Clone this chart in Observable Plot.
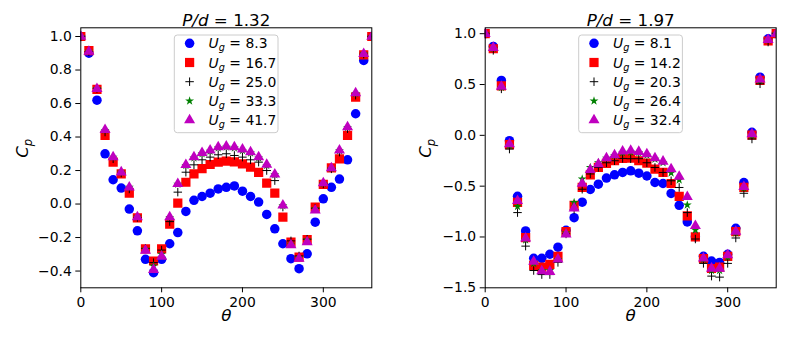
<!DOCTYPE html>
<html>
<head>
<meta charset="utf-8">
<script src="https://cdn.jsdelivr.net/npm/d3@7"></script>
<script src="https://cdn.jsdelivr.net/npm/@observablehq/plot@0.6"></script>
<style>
  html, body { margin: 0; padding: 0; background: white; }
  #wrap { display: flex; width: 800px; height: 339px; }
  #wrap svg { display: block; }
</style>
</head>
<body>
<div id="wrap"></div>
<script>
// ---- data ----
const theta = [0, 10, 20, 30, 40, 50, 60, 70, 80, 90, 100, 110, 120, 130, 140, 150, 160, 170, 180,
               190, 200, 210, 220, 230, 240, 250, 260, 270, 280, 290, 300, 310, 320, 330, 340, 350, 360];

// P/d = 1.32
const leftLabels = ["8.3", "16.7", "25.0", "33.3", "41.7"];
const left_u83  = [1.00, 0.90, 0.62, 0.30, 0.145, 0.095, -0.03, -0.16, -0.33, -0.41, -0.33, -0.237, -0.17, -0.044, 0.022, 0.045, 0.065, 0.09, 0.10, 0.108, 0.077, 0.045, 0.012, -0.062, -0.148, -0.237, -0.326, -0.386, -0.297, -0.108, 0.031, 0.10, 0.149, 0.264, 0.539, 0.857, 1.00];
const left_u167 = [1.00, 0.916, 0.684, 0.41, 0.25, 0.18, 0.065, -0.082, -0.267, -0.34, -0.267, -0.12, 0.005, 0.13, 0.18, 0.212, 0.236, 0.25, 0.256, 0.252, 0.24, 0.22, 0.189, 0.125, 0.065, -0.078, -0.227, -0.317, -0.213, -0.018, 0.117, 0.216, 0.27, 0.41, 0.638, 0.89, 1.00];
const left_u250 = [1.00, 0.91, 0.69, 0.43, 0.27, 0.185, 0.09, -0.08, -0.265, -0.35, -0.275, -0.105, 0.071, 0.19, 0.234, 0.264, 0.28, 0.294, 0.30, 0.29, 0.28, 0.264, 0.25, 0.20, 0.14, -0.018, -0.22, -0.31, -0.21, -0.025, 0.12, 0.21, 0.31, 0.45, 0.65, 0.895, 1.00];
const left_u333 = [1.00, 0.912, 0.69, 0.44, 0.28, 0.19, 0.10, -0.077, -0.27, -0.37, -0.30, -0.08, 0.118, 0.23, 0.275, 0.30, 0.315, 0.335, 0.34, 0.335, 0.32, 0.305, 0.275, 0.23, 0.175, -0.01, -0.24, -0.32, -0.215, -0.03, 0.123, 0.213, 0.318, 0.457, 0.66, 0.897, 1.00];
const left_u417 = [1.00, 0.91, 0.688, 0.443, 0.28, 0.19, 0.10, -0.078, -0.277, -0.392, -0.313, -0.078, 0.121, 0.234, 0.28, 0.306, 0.32, 0.34, 0.344, 0.34, 0.326, 0.31, 0.28, 0.236, 0.177, -0.008, -0.245, -0.326, -0.227, -0.038, 0.125, 0.214, 0.32, 0.459, 0.662, 0.897, 1.00];

// P/d = 1.97
const rightLabels = ["8.1", "14.2", "20.3", "26.4", "32.4"];
const right_u81  = [1.00, 0.875, 0.54, -0.053, -0.60, -0.94, -1.21, -1.21, -1.17, -1.10, -0.934, -0.81, -0.658, -0.533, -0.48, -0.42, -0.388, -0.365, -0.349, -0.372, -0.40, -0.464, -0.474, -0.572, -0.688, -0.852, -0.997, -1.19, -1.237, -1.25, -1.17, -0.914, -0.464, 0.03, 0.572, 0.95, 1.00];
const right_u142 = [1.00, 0.852, 0.487, -0.092, -0.66, -1.007, -1.28, -1.296, -1.27, -1.19, -0.947, -0.688, -0.513, -0.388, -0.316, -0.276, -0.25, -0.227, -0.224, -0.25, -0.273, -0.332, -0.365, -0.474, -0.60, -0.793, -1.0, -1.214, -1.31, -1.296, -1.19, -0.947, -0.513, 0.003, 0.54, 0.928, 1.00];
const right_u203 = [1.00, 0.836, 0.457, -0.135, -0.76, -1.09, -1.33, -1.37, -1.37, -1.25, -0.97, -0.73, -0.53, -0.38, -0.316, -0.27, -0.25, -0.227, -0.23, -0.23, -0.27, -0.316, -0.365, -0.447, -0.513, -0.76, -1.02, -1.26, -1.385, -1.395, -1.26, -1.01, -0.57, -0.036, 0.507, 0.918, 1.00];
const right_u264 = [1.00, 0.855, 0.47, -0.10, -0.70, -1.03, -1.26, -1.33, -1.33, -1.22, -0.96, -0.66, -0.43, -0.316, -0.27, -0.225, -0.20, -0.17, -0.165, -0.17, -0.195, -0.235, -0.27, -0.37, -0.44, -0.685, -0.93, -1.22, -1.33, -1.33, -1.20, -0.96, -0.52, 0.0, 0.54, 0.935, 1.00];
const right_u324 = [1.00, 0.862, 0.48, -0.086, -0.645, -1.013, -1.243, -1.336, -1.342, -1.22, -0.974, -0.717, -0.474, -0.339, -0.283, -0.224, -0.194, -0.158, -0.151, -0.161, -0.184, -0.224, -0.257, -0.332, -0.405, -0.605, -0.89, -1.21, -1.31, -1.31, -1.178, -0.947, -0.507, 0.013, 0.55, 0.94, 1.00];

const xTicks = [0, 100, 200, 300];
const leftYTicks = [-0.4, -0.2, 0.0, 0.2, 0.4, 0.6, 0.8, 1.0];
const rightYTicks = [-1.5, -1.0, -0.5, 0.0, 0.5, 1.0];

// ---- styles (matplotlib bo, rs, k+, g*, m^) ----
const styles = [
  {symbol: "circle",   r: 4.75, fill: "#0000ff", stroke: "none"},
  {symbol: "square",   r: 5.2,  fill: "#ff0000", stroke: "none"},
  {symbol: "plus",     r: 2.85, fill: "none",    stroke: "#000000", strokeWidth: 1},
  {symbol: "star",     r: 2.8,  fill: "#008000", stroke: "none"},
  {symbol: "triangle", r: 4.1,  fill: "#bf00bf", stroke: "none"}
];
const d3Symbols = {circle: d3.symbolCircle, square: d3.symbolSquare, plus: d3.symbolPlus, star: d3.symbolStar, triangle: d3.symbolTriangle};

const W = 400, H = 339, MT = 27.3, MB = 339 - 287.3;

function panel({series, labels, yTicks, yDomain, title, marginLeft, marginRight, ylabelDx}) {
  const marks = [];
  series.forEach((vals, i) => {
    const s = styles[i];
    const rows = theta.map((t, j) => ({theta: t, cp: vals[j]}));
    marks.push(Plot.dot(rows, {x: "theta", y: "cp", symbol: s.symbol, r: s.r, fill: s.fill,
      stroke: s.stroke, strokeWidth: s.strokeWidth || 1, clip: true}));
  });
  marks.push(Plot.frame({stroke: "black", strokeWidth: 1}));
  marks.push(Plot.axisX({ticks: xTicks, tickSize: 5, tickPadding: 4, tickFormat: d => String(d), label: null}));
  marks.push(Plot.axisY({ticks: yTicks, tickSize: 5, tickPadding: 4, tickFormat: d3.format(".1f"), label: null}));
  marks.push(Plot.text([title], {text: d => d, frameAnchor: "top", dy: -14, fontSize: 16.7}));
  marks.push(Plot.text(["θ"], {text: d => d, frameAnchor: "bottom", dy: 33, fontSize: 16.7, fontStyle: "italic"}));
  marks.push(Plot.text(["C_p"], {text: d => d, frameAnchor: "left", dx: ylabelDx, rotate: -90, fontSize: 16.7}));

  const svg = Plot.plot({
    width: W, height: H,
    marginLeft, marginRight, marginTop: MT, marginBottom: MB,
    x: {domain: [0, 360]},
    y: {domain: yDomain},
    style: {fontFamily: "DejaVu Sans, sans-serif", fontSize: "13.9px", color: "black", background: "white", overflow: "visible"},
    marks
  });

  const sel = d3.select(svg);
  // rich text: title & y label
  sel.selectAll("text").each(function() {
    const t = d3.select(this);
    if (this.textContent === title) {
      const [lhs, rhs] = title.split(" = ");
      t.text(null);
      t.append("tspan").attr("font-style", "italic").text(lhs);
      t.append("tspan").text(" = " + rhs);
    } else if (this.textContent === "C_p") {
      t.text(null);
      t.append("tspan").attr("font-style", "italic").text("C");
      t.append("tspan").attr("font-style", "italic").attr("font-size", "11.7px").attr("dy", 4).text("p");
    }
  });

  // legend (upper center, like matplotlib)
  const lx = marginLeft + 94, ly = MT + 7.7;
  const g = sel.append("g").attr("transform", `translate(${lx},${ly})`).attr("text-anchor", "start");
  g.append("rect").attr("x", 0).attr("y", 0).attr("width", 103.7).attr("height", 97.7)
    .attr("rx", 3).attr("fill", "white").attr("fill-opacity", 0.8)
    .attr("stroke", "#cccccc").attr("stroke-width", 1);
  labels.forEach((lab, i) => {
    const s = styles[i];
    const cy = 8.3 + i * 19.2;
    g.append("path")
      .attr("transform", `translate(15.3,${cy})`)
      .attr("d", d3.symbol(d3Symbols[s.symbol], Math.PI * s.r * s.r)())
      .attr("fill", s.fill).attr("stroke", s.stroke).attr("stroke-width", s.strokeWidth || 1);
    const tx = g.append("text").attr("x", 34.3).attr("y", cy + 5)
      .attr("text-anchor", "start").attr("font-size", "13.9px").attr("fill", "black");
    tx.append("tspan").attr("font-style", "italic").text("U");
    tx.append("tspan").attr("font-style", "italic").attr("font-size", "9.7px").attr("dy", 3).text("g");
    tx.append("tspan").attr("dy", -3).text(" = " + lab);
  });
  return svg;
}

const wrap = document.getElementById("wrap");
wrap.appendChild(panel({
  series: [left_u83, left_u167, left_u250, left_u333, left_u417],
  labels: leftLabels, yTicks: leftYTicks, yDomain: [-0.5, 1.052],
  title: "P/d = 1.32", marginLeft: 80.3, marginRight: 28.7, ylabelDx: -58
}));
wrap.appendChild(panel({
  series: [right_u81, right_u142, right_u203, right_u264, right_u324],
  labels: rightLabels, yTicks: rightYTicks, yDomain: [-1.5, 1.058],
  title: "P/d = 1.97", marginLeft: 84.7, marginRight: 24.3, ylabelDx: -60
}));
</script>
</body>
</html>
